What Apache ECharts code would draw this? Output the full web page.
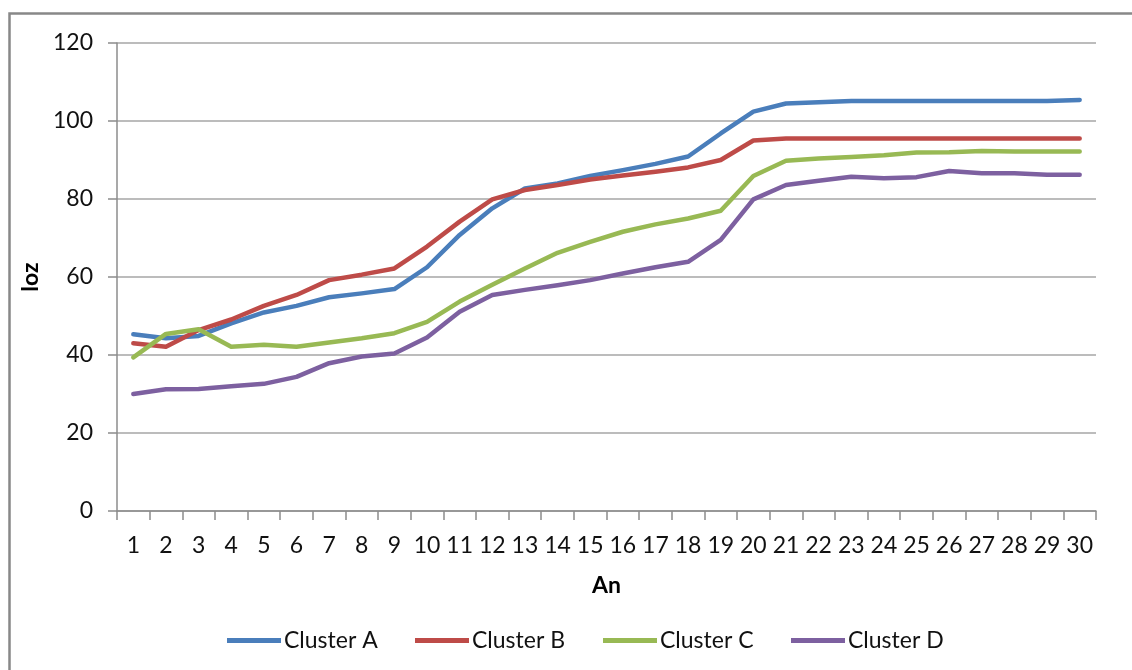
<!DOCTYPE html>
<html>
<head>
<meta charset="utf-8">
<script src="https://cdn.jsdelivr.net/npm/echarts@6/dist/echarts.min.js"></script>
<style>
  html, body { margin: 0; padding: 0; background: #fff; }
  #chart { width: 1132px; height: 670px; }
</style>
</head>
<body>
<div id="chart"></div>
<script>
// Years 1..30 on the category axis
const years = Array.from({ length: 30 }, (_, i) => String(i + 1));

const clusterA = [45.3, 44.3, 44.9, 48.1, 50.9, 52.6, 54.8, 55.8, 56.9, 62.5,
                  70.8, 77.6, 82.7, 84.0, 85.9, 87.4, 89.0, 90.9, 96.8, 102.4,
                  104.5, 104.8, 105.1, 105.1, 105.1, 105.1, 105.1, 105.1, 105.1, 105.4];
const clusterB = [43.0, 42.1, 46.4, 49.1, 52.6, 55.4, 59.2, 60.6, 62.2, 67.8,
                  74.2, 79.9, 82.3, 83.6, 85.0, 86.0, 87.0, 88.1, 90.0, 95.0,
                  95.5, 95.5, 95.5, 95.5, 95.5, 95.5, 95.5, 95.5, 95.5, 95.5];
const clusterC = [39.4, 45.4, 46.6, 42.1, 42.6, 42.1, 43.2, 44.3, 45.6, 48.5,
                  53.7, 58.0, 62.2, 66.2, 69.0, 71.6, 73.5, 75.0, 77.0, 85.9,
                  89.8, 90.4, 90.8, 91.2, 91.9, 92.0, 92.3, 92.2, 92.2, 92.2];
const clusterD = [30.0, 31.2, 31.3, 32.0, 32.6, 34.4, 37.9, 39.6, 40.4, 44.5,
                  51.1, 55.4, 56.7, 57.9, 59.2, 60.9, 62.5, 63.9, 69.5, 79.9,
                  83.6, 84.7, 85.7, 85.3, 85.6, 87.2, 86.6, 86.6, 86.2, 86.2];

const yTicks = { min: 0, max: 120, interval: 20 };

const seriesNames = ['Cluster A', 'Cluster B', 'Cluster C', 'Cluster D'];
const seriesData = [clusterA, clusterB, clusterC, clusterD];
const colors = ['#4A7EBB', '#BE4B48', '#98B954', '#7D60A0'];
const legendLeft = [222, 410, 598, 786];

const FONT = 'Lato, "Open Sans", sans-serif';
const chart = echarts.init(document.getElementById('chart'), null, { renderer: 'canvas' });

chart.setOption({
  animation: false,
  backgroundColor: '#ffffff',
  textStyle: { fontFamily: FONT },
  grid: { left: 117, right: 36, top: 43, bottom: 159, containLabel: false },
  legend: seriesNames.map((name, i) => ({
    data: [name],
    left: legendLeft[i],
    top: 624,
    icon: 'path://M0,0 L54,0 L54,5 L0,5 Z',
    itemWidth: 54,
    itemHeight: 5,
    itemGap: 0,
    selectedMode: false,
    textStyle: { fontFamily: FONT, fontSize: 23, color: '#111', padding: [0, 0, 0, -2] }
  })),
  xAxis: {
    type: 'category',
    data: years,
    boundaryGap: true,
    name: 'An',
    nameLocation: 'middle',
    nameGap: 63,
    nameTextStyle: { fontFamily: FONT, fontSize: 23, fontWeight: 'bold', color: '#000' },
    axisLine: { lineStyle: { color: '#8c8c8c', width: 1.5 } },
    axisTick: { show: true, interval: 0, length: 9, lineStyle: { color: '#8c8c8c', width: 1.5 } },
    axisLabel: { interval: 0, margin: 23, fontFamily: FONT, fontSize: 23, color: '#111' },
    splitLine: { show: false }
  },
  yAxis: {
    type: 'value',
    min: yTicks.min,
    max: yTicks.max,
    interval: yTicks.interval,
    name: 'loz',
    nameLocation: 'middle',
    nameGap: 74,
    nameRotate: 90,
    nameTextStyle: { fontFamily: FONT, fontSize: 23, fontWeight: 'bold', color: '#000' },
    axisLine: { show: true, lineStyle: { color: '#8c8c8c', width: 1.5 } },
    axisTick: { show: true, length: 9, lineStyle: { color: '#8c8c8c', width: 1.5 } },
    axisLabel: { margin: 24, fontFamily: FONT, fontSize: 23, color: '#111' },
    splitLine: { show: true, lineStyle: { color: '#a6a6a6', width: 1.5 } }
  },
  series: seriesNames.map((name, i) => ({
    name,
    type: 'line',
    data: seriesData[i],
    symbol: 'none',
    smooth: false,
    lineStyle: { color: colors[i], width: 4.5, cap: 'round', join: 'round' },
    itemStyle: { color: colors[i] },
    z: 2 + i
  })),
  graphic: [{
    type: 'rect',
    shape: { x: 9.5, y: 13.5, width: 1300, height: 800 },
    style: { fill: 'none', stroke: '#888888', lineWidth: 2.5 },
    silent: true
  }]
});
</script>
</body>
</html>
